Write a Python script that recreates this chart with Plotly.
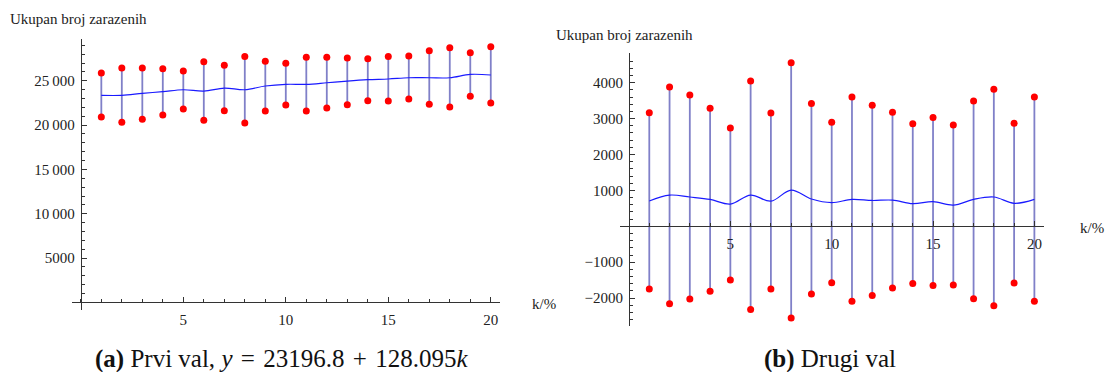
import plotly.graph_objects as go

# ---------------- data ----------------
k = list(range(1, 21))

wave1_upper = [25870, 26440, 26440, 26360, 26100, 27150, 26740, 27750, 27190, 26970,
               27640, 27640, 27560, 27490, 27750, 27790, 28390, 28730, 28160, 28840]
wave1_lower = [20910, 20310, 20650, 21140, 21820, 20540, 21620, 20240, 21590, 22270,
               21590, 21930, 22300, 22750, 22720, 22940, 22340, 22040, 23250, 22490]
wave1_mid = [23360, 23360, 23580, 23770, 23990, 23840, 24180, 23990, 24410, 24600,
             24600, 24780, 24970, 25120, 25200, 25340, 25340, 25340, 25720, 25650]

wave2_upper = [3165, 3880, 3660, 3290, 2740, 4050, 3160, 4560, 3420, 2900,
               3600, 3370, 3180, 2860, 3030, 2820, 3490, 3820, 2870, 3600]
wave2_lower = [-1747, -2155, -2025, -1810, -1496, -2320, -1747, -2554, -1886, -1570,
               -2090, -1930, -1720, -1590, -1650, -1635, -2020, -2210, -1580, -2090]
wave2_mid = [705, 870, 816, 750, 620, 870, 700, 1010, 760, 660,
             750, 720, 730, 630, 685, 590, 750, 816, 640, 750]

x_ticks = [5, 10, 15, 20]
y1_ticks = [5000, 10000, 15000, 20000, 25000]
y1_ticktext = ["5000", "10\u2009000", "15\u2009000", "20\u2009000", "25\u2009000"]
y2_ticks = [-2000, -1000, 1000, 2000, 3000, 4000]
y2_ticktext = ["\u22122000", "\u22121000", "1000", "2000", "3000", "4000"]

y_title = "Ukupan broj zarazenih"
x_title = "k/%"
caption_a = ("<b>(a)</b> Prvi val, <i>y</i>\u2004=\u200423196.8\u2004+\u2004128.095<i>k</i>")
caption_b = "<b>(b)</b> Drugi val"

# ---------------- style ----------------
W, H = 1105, 372
FONT = "'Liberation Serif', 'Times New Roman', Times, 'DejaVu Serif', serif"
AX = "#333333"
STEM = "rgba(60,60,170,0.65)"
CURVE = "#1a1aff"
DOT = "#ff0000"

x_range = [-0.45, 20.45]
y1_range = [-850, 29700]
y2_range = [-2780, 4820]

dom1_x = [71.6 / W, 500.0 / W]
dom1_y = [(H - 310.0) / H, (H - 39.1) / H]
dom2_x = [619.9 / W, 1043.5 / W]
dom2_y = [(H - 326.1) / H, (H - 53.3) / H]


def frac(v, rng, dom):
    return dom[0] + (v - rng[0]) / (rng[1] - rng[0]) * (dom[1] - dom[0])


def stems(xs, lo, hi):
    sx, sy = [], []
    for a, b, c in zip(xs, lo, hi):
        sx += [a, a, None]
        sy += [b, c, None]
    return sx, sy


fig = go.Figure()

for xa, ya, up, lo, mid in [("x", "y", wave1_upper, wave1_lower, wave1_mid),
                            ("x2", "y2", wave2_upper, wave2_lower, wave2_mid)]:
    sx, sy = stems(k, lo, up)
    fig.add_trace(go.Scatter(x=sx, y=sy, mode="lines", xaxis=xa, yaxis=ya,
                             line=dict(color=STEM, width=1.8), hoverinfo="skip",
                             showlegend=False))
    fig.add_trace(go.Scatter(x=k, y=mid, mode="lines", xaxis=xa, yaxis=ya,
                             line=dict(color=CURVE, width=1.2, shape="spline", smoothing=1.0),
                             showlegend=False))
    fig.add_trace(go.Scatter(x=k + k, y=up + lo, mode="markers", xaxis=xa, yaxis=ya,
                             marker=dict(color=DOT, size=7, line=dict(width=0)),
                             showlegend=False))

tickfont = dict(family=FONT, size=15, color="#222222")

common_x = dict(range=x_range, showgrid=False, zeroline=False, showline=True,
                linecolor=AX, linewidth=1, ticks="inside", ticklen=5, tickwidth=1,
                tickcolor=AX, tickmode="array", tickvals=x_ticks, tickfont=tickfont,
                minor=dict(ticks="inside", ticklen=3, tickcolor=AX, dtick=1, tick0=0),
                automargin=False, fixedrange=True, anchor="free", side="bottom",
                ticklabelstandoff=4)
common_y = dict(showgrid=False, zeroline=False, showline=True, linecolor=AX, linewidth=1,
                ticks="inside", ticklen=5, tickwidth=1, tickcolor=AX, tickmode="array",
                tickfont=tickfont, automargin=False, fixedrange=True, anchor="free",
                side="left", ticklabelstandoff=3)

fig.update_layout(
    width=W, height=H,
    margin=dict(l=0, r=0, t=0, b=0),
    paper_bgcolor="white", plot_bgcolor="white",
    showlegend=False,
    font=dict(family=FONT, color="#222222"),
    xaxis=dict(common_x, domain=dom1_x, position=frac(0, y1_range, dom1_y)),
    yaxis=dict(common_y, domain=dom1_y, range=y1_range, tickvals=y1_ticks,
               ticktext=y1_ticktext, position=frac(0, x_range, dom1_x),
               minor=dict(ticks="inside", ticklen=3, tickcolor=AX, dtick=1000, tick0=0)),
    xaxis2=dict(common_x, domain=dom2_x, position=frac(0, y2_range, dom2_y)),
    yaxis2=dict(common_y, domain=dom2_y, range=y2_range, tickvals=y2_ticks,
                ticktext=y2_ticktext, position=frac(0, x_range, dom2_x),
                minor=dict(ticks="inside", ticklen=3, tickcolor=AX, dtick=200, tick0=0)),
)

ann_font = dict(family=FONT, size=15, color="#222222")
cap_font = dict(family=FONT, size=25, color="#111111")
anns = [
    dict(text=y_title, x=8 / W, y=(H - 19) / H, xanchor="left", yanchor="middle", font=ann_font),
    dict(text=y_title, x=554 / W, y=(H - 35) / H, xanchor="left", yanchor="middle", font=ann_font),
    dict(text=x_title, x=530 / W, y=(H - 304) / H, xanchor="left", yanchor="middle", font=ann_font),
    dict(text=x_title, x=1078 / W, y=(H - 228) / H, xanchor="left", yanchor="middle", font=ann_font),
    dict(text=caption_a, x=282 / W, y=(H - 359) / H, xanchor="center", yanchor="middle", font=cap_font),
    dict(text=caption_b, x=830 / W, y=(H - 359) / H, xanchor="center", yanchor="middle", font=cap_font),
]
for a in anns:
    a.update(xref="paper", yref="paper", showarrow=False)
fig.update_layout(annotations=anns)

fig.write_html("out.html")
